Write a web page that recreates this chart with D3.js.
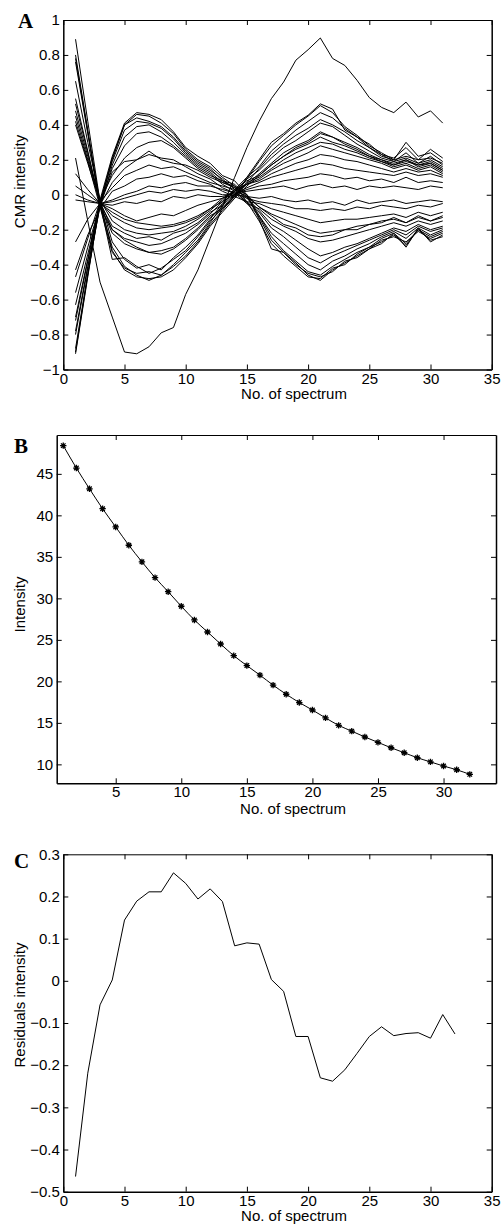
<!DOCTYPE html>
<html>
<head>
<meta charset="utf-8">
<script src="https://cdn.jsdelivr.net/npm/d3@7"></script>
<style>
  body { margin: 0; background: #fff; }
  svg { display: block; }
  text { font-family: "Liberation Sans", Arial, Helvetica, sans-serif; fill: #000; }
  .tick line, .domain { stroke: #000; }
</style>
</head>
<body>
<svg id="fig" width="502" height="1225"></svg>
<script>
// ---------- Panel A: CMR component intensities per spectrum ----------
const spectraA = [1,2,3,4,5,6,7,8,9,10,11,12,13,14,15,16,17,18,19,20,21,22,23,24,25,26,27,28,29,30,31];

const cmrOutlier = [0.21,-0.15,-0.5,-0.7,-0.9,-0.91,-0.87,-0.79,-0.76,-0.57,-0.43,-0.25,-0.07,0.1,0.27,0.42,0.55,0.645,0.77,0.83,0.897,0.78,0.74,0.655,0.556,0.5,0.47,0.53,0.445,0.48,0.41];

// components that start high
const cmrP1 = [0.89,0.42,-0.04,-0.32,-0.43,-0.47,-0.48,-0.47,-0.43,-0.36,-0.28,-0.18,-0.1,-0.02,0.1,0.2,0.3,0.35,0.41,0.455,0.52,0.49,0.37,0.33,0.29,0.23,0.21,0.27,0.2,0.26,0.21];
const cmrP2 = [0.8,0.37,-0.06,-0.3,-0.41,-0.46,-0.49,-0.46,-0.41,-0.35,-0.27,-0.17,-0.09,0,0.09,0.19,0.28,0.34,0.4,0.45,0.51,0.47,0.39,0.34,0.28,0.24,0.2,0.3,0.22,0.24,0.19];
const cmrP3 = [0.78,0.36,-0.07,-0.33,-0.42,-0.45,-0.44,-0.46,-0.4,-0.33,-0.26,-0.16,-0.06,0.03,0.1,0.16,0.25,0.31,0.37,0.42,0.47,0.44,0.38,0.33,0.27,0.23,0.19,0.24,0.18,0.22,0.17];
const cmrP4 = [0.76,0.35,-0.05,-0.37,-0.36,-0.41,-0.45,-0.42,-0.37,-0.32,-0.24,-0.15,-0.08,-0.01,0.07,0.15,0.23,0.29,0.34,0.38,0.43,0.4,0.36,0.31,0.27,0.22,0.2,0.22,0.2,0.21,0.18];
const cmrP5 = [0.65,0.3,-0.03,-0.27,-0.37,-0.42,-0.4,-0.43,-0.36,-0.3,-0.23,-0.14,-0.05,0.02,0.09,0.14,0.21,0.27,0.31,0.36,0.41,0.39,0.34,0.29,0.25,0.21,0.19,0.21,0.18,0.2,0.16];
const cmrP6 = [0.55,0.25,-0.06,-0.22,-0.28,-0.31,-0.33,-0.34,-0.31,-0.26,-0.2,-0.13,-0.07,-0.01,0.06,0.12,0.18,0.24,0.28,0.31,0.36,0.33,0.3,0.27,0.23,0.2,0.18,0.2,0.17,0.19,0.15];
const cmrP7 = [0.52,0.24,-0.04,-0.2,-0.25,-0.27,-0.29,-0.28,-0.25,-0.22,-0.17,-0.11,-0.04,0.03,0.08,0.11,0.17,0.22,0.26,0.29,0.33,0.3,0.28,0.25,0.22,0.2,0.17,0.19,0.17,0.18,0.14];
const cmrP8 = [0.48,0.22,-0.05,-0.18,-0.22,-0.25,-0.24,-0.26,-0.22,-0.2,-0.16,-0.1,-0.06,0,0.07,0.1,0.15,0.2,0.24,0.27,0.3,0.29,0.26,0.24,0.21,0.19,0.16,0.18,0.15,0.17,0.13];
const cmrP9 = [0.45,0.2,-0.03,-0.15,-0.2,-0.22,-0.23,-0.22,-0.21,-0.18,-0.14,-0.09,-0.03,0.03,0.06,0.09,0.14,0.18,0.21,0.24,0.28,0.26,0.24,0.22,0.2,0.18,0.15,0.17,0.14,0.16,0.12];
const cmrP10 = [0.42,0.19,-0.07,-0.2,-0.26,-0.3,-0.33,-0.32,-0.3,-0.25,-0.19,-0.12,-0.08,-0.02,0.05,0.11,0.17,0.22,0.27,0.3,0.35,0.33,0.29,0.26,0.22,0.19,0.17,0.2,0.16,0.18,0.14];
const cmrP11 = [0.4,0.18,-0.04,-0.12,-0.16,-0.19,-0.2,-0.19,-0.18,-0.16,-0.13,-0.08,-0.02,0.02,0.06,0.08,0.12,0.15,0.18,0.2,0.23,0.22,0.2,0.19,0.17,0.15,0.13,0.15,0.13,0.14,0.11];

// components that start low
const cmrN1 = [-0.91,-0.47,-0.03,0.22,0.41,0.47,0.46,0.43,0.36,0.27,0.22,0.18,0.11,0.08,0,-0.14,-0.31,-0.33,-0.39,-0.46,-0.49,-0.43,-0.39,-0.35,-0.31,-0.28,-0.22,-0.3,-0.19,-0.27,-0.23];
const cmrN2 = [-0.9,-0.46,-0.05,0.21,0.4,0.46,0.45,0.41,0.35,0.26,0.2,0.16,0.1,0.05,-0.04,-0.15,-0.28,-0.35,-0.41,-0.47,-0.48,-0.42,-0.4,-0.34,-0.3,-0.27,-0.23,-0.29,-0.2,-0.26,-0.24];
const cmrN3 = [-0.88,-0.45,-0.06,0.2,0.4,0.44,0.42,0.39,0.33,0.25,0.19,0.15,0.08,0.06,-0.01,-0.13,-0.26,-0.33,-0.4,-0.45,-0.47,-0.44,-0.38,-0.36,-0.31,-0.26,-0.24,-0.27,-0.21,-0.25,-0.22];
const cmrN4 = [-0.8,-0.42,-0.04,0.19,0.37,0.42,0.41,0.38,0.32,0.24,0.18,0.14,0.09,0.03,-0.05,-0.12,-0.24,-0.32,-0.38,-0.44,-0.46,-0.41,-0.37,-0.33,-0.3,-0.25,-0.22,-0.28,-0.2,-0.24,-0.21];
const cmrN5 = [-0.78,-0.41,-0.07,0.17,0.33,0.39,0.4,0.36,0.3,0.23,0.17,0.13,0.07,0.05,0,-0.12,-0.22,-0.28,-0.34,-0.4,-0.43,-0.38,-0.35,-0.31,-0.28,-0.24,-0.21,-0.25,-0.19,-0.23,-0.2];
const cmrN6 = [-0.72,-0.38,-0.05,0.15,0.28,0.35,0.36,0.33,0.28,0.22,0.16,0.12,0.06,0.02,-0.04,-0.1,-0.19,-0.24,-0.3,-0.36,-0.39,-0.35,-0.32,-0.29,-0.26,-0.23,-0.2,-0.23,-0.18,-0.21,-0.19];
const cmrN7 = [-0.7,-0.37,-0.03,0.11,0.21,0.27,0.3,0.31,0.27,0.21,0.15,0.11,0.08,0.04,-0.02,-0.09,-0.17,-0.21,-0.26,-0.31,-0.35,-0.33,-0.3,-0.28,-0.25,-0.22,-0.19,-0.21,-0.17,-0.2,-0.18];
const cmrN8 = [-0.56,-0.3,-0.06,0.07,0.15,0.2,0.23,0.21,0.2,0.16,0.12,0.09,0.04,0.01,-0.05,-0.08,-0.14,-0.18,-0.21,-0.25,-0.27,-0.26,-0.24,-0.22,-0.2,-0.18,-0.16,-0.18,-0.15,-0.17,-0.15];
const cmrN9 = [-0.47,-0.25,-0.04,0.04,0.11,0.14,0.17,0.15,0.16,0.13,0.1,0.07,0.05,0.03,-0.01,-0.07,-0.11,-0.14,-0.17,-0.2,-0.22,-0.21,-0.2,-0.18,-0.17,-0.15,-0.14,-0.16,-0.13,-0.15,-0.13];
const cmrN10 = [-0.43,-0.23,-0.08,0.02,0.05,0.09,0.1,0.12,0.1,0.11,0.08,0.06,0.02,-0.01,-0.04,-0.05,-0.08,-0.1,-0.12,-0.14,-0.16,-0.15,-0.14,-0.14,-0.13,-0.12,-0.11,-0.13,-0.1,-0.12,-0.1];
const cmrN11 = [-0.27,-0.14,-0.05,-0.03,0,0.02,0.05,0.04,0.06,0.07,0.05,0.05,0.03,0.01,-0.02,-0.04,-0.05,-0.06,-0.08,-0.08,-0.09,-0.08,-0.09,-0.07,-0.08,-0.06,-0.07,-0.08,-0.06,-0.07,-0.05];
const cmrN12 = [-0.63,-0.34,-0.06,0.13,0.19,0.2,0.25,0.2,0.18,0.17,0.14,0.1,0.07,0.04,0,-0.07,-0.12,-0.17,-0.19,-0.23,-0.24,-0.23,-0.2,-0.2,-0.17,-0.16,-0.13,-0.16,-0.12,-0.15,-0.12];

// small components hovering near zero
const cmrZ1 = [0.05,0,-0.05,-0.08,-0.12,-0.15,-0.13,-0.11,-0.12,-0.09,-0.06,-0.04,-0.02,0,0.03,0.05,0.06,0.08,0.09,0.1,0.12,0.11,0.09,0.1,0.08,0.09,0.07,0.1,0.07,0.08,0.07];
const cmrZ2 = [-0.03,-0.04,-0.05,-0.06,-0.04,-0.05,-0.03,-0.04,-0.01,-0.02,0,-0.01,-0.01,0.01,0.02,0.03,0.04,0.05,0.03,0.05,0.06,0.04,0.05,0.03,0.05,0.04,0.05,0.04,0.03,0.05,0.04];
const cmrZ3 = [0,-0.03,-0.05,-0.04,-0.02,0,0.02,0.01,0.03,0.02,0.03,0.02,0,0,-0.01,-0.02,-0.01,-0.03,-0.04,-0.03,-0.05,-0.04,-0.06,-0.03,-0.05,-0.04,-0.03,-0.05,-0.04,-0.03,-0.04];
const cmrZ4 = [0.12,0.03,-0.05,-0.1,-0.14,-0.16,-0.17,-0.18,-0.17,-0.15,-0.12,-0.08,-0.04,0,0.04,0.07,0.1,0.12,0.14,0.16,0.18,0.17,0.15,0.14,0.13,0.12,0.11,0.13,0.11,0.12,0.1];

const cmrComponents = [cmrOutlier,
  cmrP1, cmrP2, cmrP3, cmrP4, cmrP5, cmrP6, cmrP7, cmrP8, cmrP9, cmrP10, cmrP11,
  cmrN1, cmrN2, cmrN3, cmrN4, cmrN5, cmrN6, cmrN7, cmrN8, cmrN9, cmrN10, cmrN11, cmrN12,
  cmrZ1, cmrZ2, cmrZ3, cmrZ4];

const ticksAx = [0,5,10,15,20,25,30,35];
const ticksAy = [-1,-0.8,-0.6,-0.4,-0.2,0,0.2,0.4,0.6,0.8,1];

// ---------- Panel B: total intensity with fitted decay ----------
const spectraB = [1,2,3,4,5,6,7,8,9,10,11,12,13,14,15,16,17,18,19,20,21,22,23,24,25,26,27,28,29,30,31,32];
const intensityB = [48.4,45.7,43.2,40.8,38.6,36.4,34.4,32.5,30.8,29.05,27.4,25.95,24.5,23.1,21.9,20.75,19.55,18.45,17.45,16.55,15.6,14.7,14.0,13.3,12.65,12.0,11.4,10.8,10.3,9.8,9.35,8.8];
const ticksBx = [5,10,15,20,25,30];
const ticksBy = [10,15,20,25,30,35,40,45];

// ---------- Panel C: residuals of the fit ----------
const spectraC = spectraB;
const residualsC = [-0.464,-0.219,-0.057,0.002,0.144,0.189,0.211,0.211,0.256,0.231,0.194,0.218,0.188,0.083,0.09,0.087,0.003,-0.025,-0.132,-0.132,-0.23,-0.238,-0.211,-0.172,-0.132,-0.109,-0.13,-0.125,-0.123,-0.136,-0.08,-0.126];
const ticksCx = [0,5,10,15,20,25,30,35];
const ticksCy = [-0.5,-0.4,-0.3,-0.2,-0.1,0,0.1,0.2,0.3];

const svg = d3.select("#fig");
const TICK = 5;

// Boxed axes with inward ticks on all four sides, labels on bottom/left only
function framedAxes(box, xDomain, yDomain, xTicks, yTicks, fmtX, fmtY) {
  const x = d3.scaleLinear().domain(xDomain).range([box.left, box.right]);
  const y = d3.scaleLinear().domain(yDomain).range([box.bottom, box.top]);
  const g = svg.append("g");
  const style = sel => sel.attr("font-size", null).attr("font-family", null)
    .call(s => s.selectAll("text").style("font-size", "15px"));

  g.append("g").attr("transform", `translate(0,${box.bottom})`)
    .call(d3.axisBottom(x).tickValues(xTicks).tickFormat(fmtX).tickSize(-TICK).tickSizeOuter(0).tickPadding(3.5))
    .call(style).select(".domain").attr("stroke-width", 1.5);
  g.append("g").attr("transform", `translate(0,${box.top})`)
    .call(d3.axisTop(x).tickValues(xTicks).tickFormat("").tickSize(-TICK).tickSizeOuter(0))
    .call(style);
  g.append("g").attr("transform", `translate(${box.left},0)`)
    .call(d3.axisLeft(y).tickValues(yTicks).tickFormat(fmtY).tickSize(-TICK).tickSizeOuter(0).tickPadding(3.5))
    .call(style).select(".domain").attr("stroke-width", 1.5);
  g.append("g").attr("transform", `translate(${box.right},0)`)
    .call(d3.axisRight(y).tickValues(yTicks).tickFormat("").tickSize(-TICK).tickSizeOuter(0))
    .call(style).select(".domain").attr("stroke-width", 1.5);
  return { x, y, g };
}

function panelLetter(txt, px, py) {
  svg.append("text").attr("x", px).attr("y", py)
    .style("font-family", '"Liberation Serif", "Times New Roman", serif')
    .style("font-weight", "bold").style("font-size", "21px").text(txt);
}

function xLabel(txt, cx, by) {
  svg.append("text").attr("x", cx).attr("y", by).attr("text-anchor", "middle")
    .style("font-size", "15px").text(txt);
}

function yLabel(txt, bx, cy) {
  svg.append("text").attr("transform", `translate(${bx},${cy}) rotate(-90)`)
    .attr("text-anchor", "middle").style("font-size", "15px").text(txt);
}

const fmtDec = d3.format(".1~f");
const fmtInt = d3.format("d");

// Panel A
const A = framedAxes({ left: 63.3, right: 491.7, top: 20, bottom: 369.5 }, [0, 35], [-1, 1], ticksAx, ticksAy, fmtInt, fmtDec);
const lineA = d3.line().x((d, i) => A.x(spectraA[i])).y(d => A.y(d));
A.g.append("g").selectAll("path").data(cmrComponents).join("path")
  .attr("d", lineA).attr("fill", "none").attr("stroke", "#000").attr("stroke-width", 1);
panelLetter("A", 18, 28.3);
xLabel("No. of spectrum", 294, 399);
yLabel("CMR intensity", 25, 181.5);

// Panel B
const B = framedAxes({ left: 56.7, right: 496, top: 435, bottom: 783.3 }, [0.5, 34], [7.72, 49.68], ticksBx, ticksBy, fmtInt, fmtInt);
const ptsB = intensityB.map((v, i) => [spectraB[i], v]);
B.g.append("path").datum(ptsB)
  .attr("d", d3.line().x(d => B.x(d[0])).y(d => B.y(d[1])).curve(d3.curveMonotoneX))
  .attr("fill", "none").attr("stroke", "#000").attr("stroke-width", 1);
const star = r => {
  const a = r * 0.7071;
  return `M${-r},0H${r}M0,${-r}V${r}M${-a},${-a}L${a},${a}M${-a},${a}L${a},${-a}`;
};
B.g.append("g").selectAll("path").data(ptsB).join("path")
  .attr("transform", d => `translate(${B.x(d[0])},${B.y(d[1])})`)
  .attr("d", star(3.2)).attr("stroke", "#000").attr("stroke-width", 1.3).attr("fill", "none");
panelLetter("B", 14, 453.3);
xLabel("No. of spectrum", 293, 814);
yLabel("Intensity", 25, 604.5);

// Panel C
const C = framedAxes({ left: 63.3, right: 491.7, top: 854.3, bottom: 1191.7 }, [0, 35], [-0.5, 0.3], ticksCx, ticksCy, fmtInt, fmtDec);
C.g.append("path").datum(residualsC.map((v, i) => [spectraC[i], v]))
  .attr("d", d3.line().x(d => C.x(d[0])).y(d => C.y(d[1])))
  .attr("fill", "none").attr("stroke", "#000").attr("stroke-width", 1);
panelLetter("C", 14, 868);
xLabel("No. of spectrum", 294, 1221);
yLabel("Residuals intensity", 25, 1005);
</script>
</body>
</html>
